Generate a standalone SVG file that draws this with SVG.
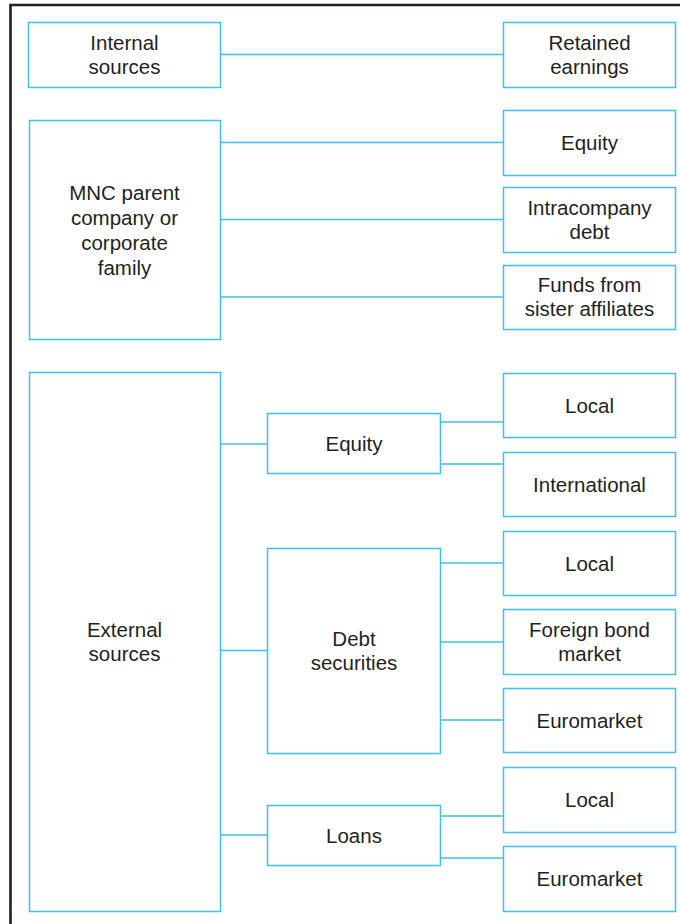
<svg xmlns="http://www.w3.org/2000/svg" width="680" height="924" viewBox="0 0 680 924">
<style>
.box{fill:#fff;stroke:#3cc0ef;stroke-width:1.5}
.ln{stroke:#3cc0ef;stroke-width:1.5;fill:none}
text{font-family:"Liberation Sans",Arial,sans-serif;font-size:20.5px;fill:#231f20;text-anchor:middle}
</style>
<rect width="680" height="924" fill="#fff"/>
<path d="M10.5 924 V5 H680" fill="none" stroke="#231f20" stroke-width="2.6"/>
<g id="connectors">
<path class="ln" d="M221 54.5 H503"/>
<path class="ln" d="M220 142.5 H503 M220 219.5 H503 M220 297 H503"/>
<path class="ln" d="M221 444 H267 M221 650.5 H267 M221 835 H267"/>
<path class="ln" d="M441 422 H503 M441 464 H503"/>
<path class="ln" d="M441 563 H503 M441 642 H503 M441 720 H503"/>
<path class="ln" d="M441 816 H503 M441 858 H503"/>
</g>
<g id="internal"><rect class="box" x="28.5" y="22.5" width="192" height="65"/><text x="124.5" y="50">Internal</text><text x="124.5" y="74">sources</text></g>
<g id="retained"><rect class="box" x="503.5" y="22.5" width="172" height="65"/><text x="589.5" y="50">Retained</text><text x="589.5" y="74">earnings</text></g>
<g id="mnc"><rect class="box" x="29.5" y="120.5" width="191" height="219"/><text x="124.5" y="199.5">MNC parent</text><text x="124.5" y="224.5">company or</text><text x="124.5" y="249.5">corporate</text><text x="124.5" y="274.5">family</text></g>
<g id="equity1"><rect class="box" x="503.5" y="110.5" width="172" height="65"/><text x="589.5" y="150">Equity</text></g>
<g id="intra"><rect class="box" x="503.5" y="187.5" width="172" height="65"/><text x="589.5" y="215">Intracompany</text><text x="589.5" y="239">debt</text></g>
<g id="funds"><rect class="box" x="503.5" y="265.5" width="172" height="64"/><text x="589.5" y="292">Funds from</text><text x="589.5" y="316">sister affiliates</text></g>
<g id="external"><rect class="box" x="29.5" y="372.5" width="191" height="539"/><text x="124.5" y="637">External</text><text x="124.5" y="661">sources</text></g>
<g id="equity2"><rect class="box" x="267.5" y="413.5" width="173" height="60"/><text x="354" y="451">Equity</text></g>
<g id="local1"><rect class="box" x="503.5" y="373.5" width="172" height="64"/><text x="589.5" y="413">Local</text></g>
<g id="international"><rect class="box" x="503.5" y="452.5" width="172" height="64"/><text x="589.5" y="492">International</text></g>
<g id="debt"><rect class="box" x="267.5" y="548.5" width="173" height="205"/><text x="354" y="646">Debt</text><text x="354" y="670">securities</text></g>
<g id="local2"><rect class="box" x="503.5" y="531.5" width="172" height="64"/><text x="589.5" y="571">Local</text></g>
<g id="foreign"><rect class="box" x="503.5" y="609.5" width="172" height="65"/><text x="589.5" y="637">Foreign bond</text><text x="589.5" y="661">market</text></g>
<g id="euro1"><rect class="box" x="503.5" y="688.5" width="172" height="64"/><text x="589.5" y="728">Euromarket</text></g>
<g id="loans"><rect class="box" x="267.5" y="805.5" width="173" height="60"/><text x="354" y="843">Loans</text></g>
<g id="local3"><rect class="box" x="503.5" y="767.5" width="172" height="65"/><text x="589.5" y="807">Local</text></g>
<g id="euro2"><rect class="box" x="503.5" y="846.5" width="172" height="65"/><text x="589.5" y="886">Euromarket</text></g>
</svg>
